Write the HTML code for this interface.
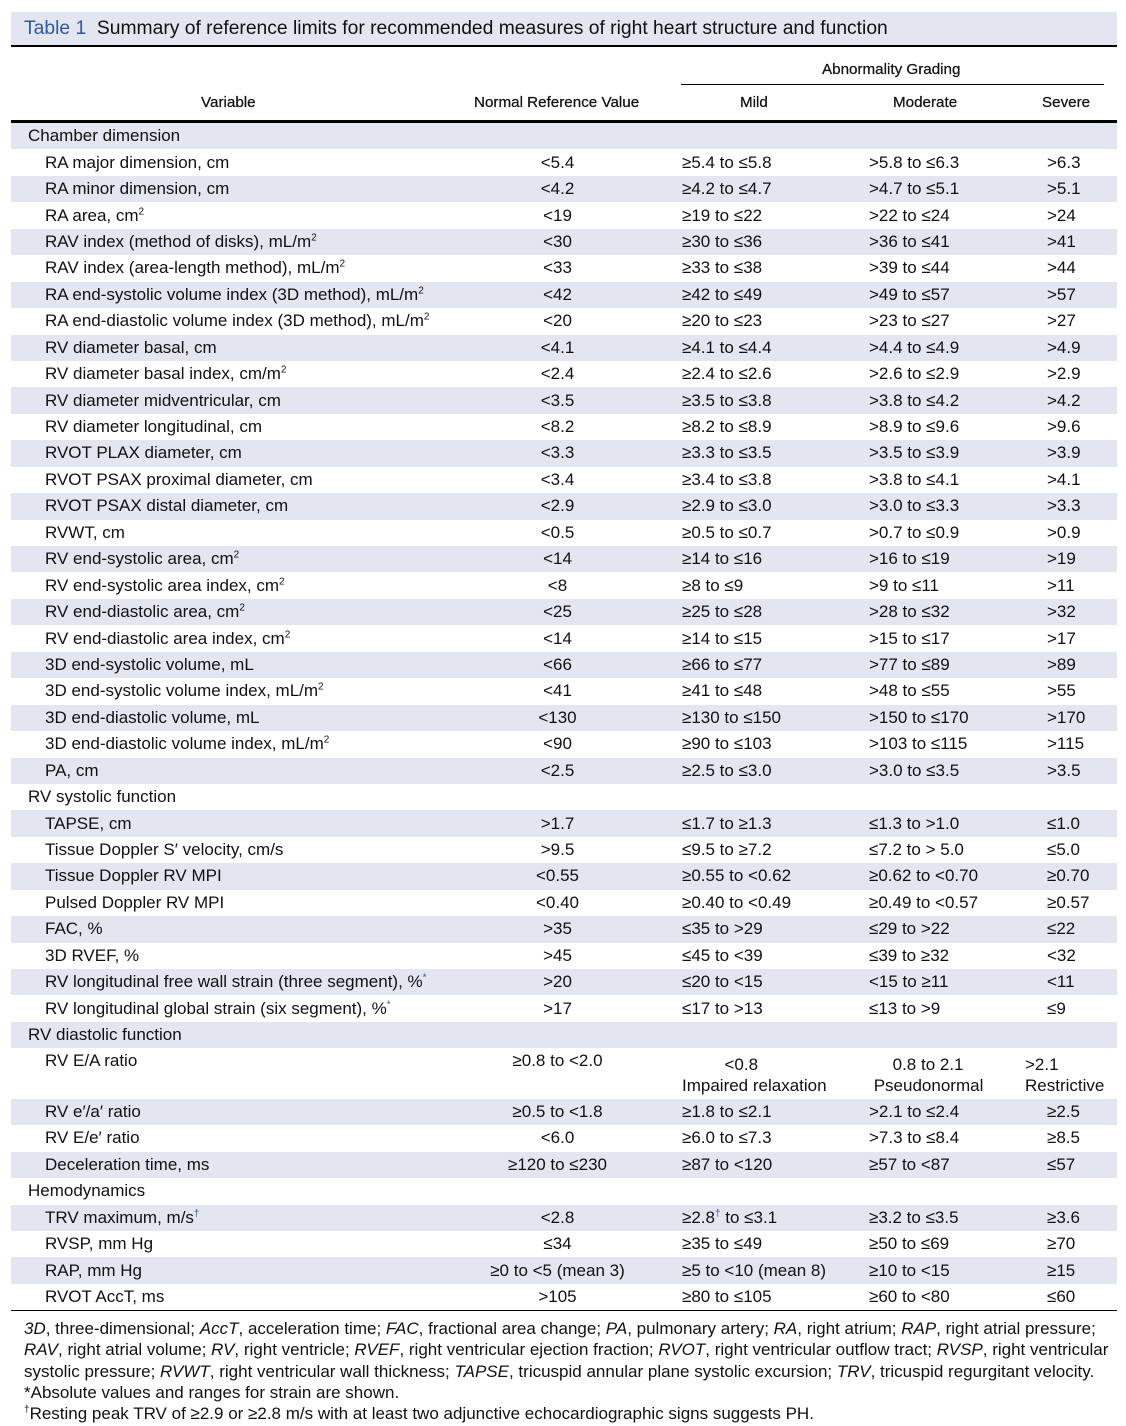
<!DOCTYPE html>
<html><head><meta charset="utf-8"><style>
body{margin:0;background:#fff;width:1126px;height:1426px;position:relative;font-family:"Liberation Sans",Arial,sans-serif;color:#111;overflow:hidden}
.title{position:absolute;left:11px;top:12px;width:1106px;height:35px;background:#e3e5f0;font-size:19.3px;line-height:34px;border-bottom:2px solid #000;box-sizing:border-box}
.title span{color:#2d5aa0;margin-left:13px}
.hdr{position:absolute;font-size:15.2px;font-weight:normal;-webkit-text-stroke:0.25px #111}
table{position:absolute;left:11px;top:120px;width:1106px;border-collapse:collapse;table-layout:fixed;border-top:3px solid #000;border-bottom:1px solid #000;font-size:17px}
td{height:26.45px;padding:0;white-space:nowrap;line-height:18px}
tr:nth-child(odd) td{background:#e3e5f0}
td.v{padding-left:34px}
td.s{padding-left:17px}
td.n{text-align:center}
td.m{padding-left:37px}
td.severe{padding-left:22px}
sup{font-size:10px;line-height:0}
.ast{color:#2d5aa0}
.foot{position:absolute;left:24px;top:1318px;width:1092px;font-size:17px;line-height:21.3px}
</style></head><body>
<div class="title"><span>Table 1</span>&nbsp; Summary of reference limits for recommended measures of right heart structure and function</div>
<div class="hdr" style="left:822px;top:61px">Abnormality Grading</div>
<div style="position:absolute;left:681px;top:84px;width:423px;border-top:1px solid #000"></div>
<div class="hdr" style="left:201px;top:94px">Variable</div>
<div class="hdr" style="left:474px;top:94px">Normal Reference Value</div>
<div class="hdr" style="left:740px;top:94px">Mild</div>
<div class="hdr" style="left:893px;top:94px">Moderate</div>
<div class="hdr" style="left:1042px;top:94px">Severe</div>
<table>
<colgroup><col style="width:459px"><col style="width:175px"><col style="width:224px"><col style="width:156px"><col style="width:92px"></colgroup>
<tr><td class="s" colspan="5">Chamber dimension</td></tr>
<tr><td class="v">RA major dimension, cm</td><td class="n">&lt;5.4</td><td class="m">≥5.4 to ≤5.8</td><td>&gt;5.8 to ≤6.3</td><td class="severe">&gt;6.3</td></tr>
<tr><td class="v">RA minor dimension, cm</td><td class="n">&lt;4.2</td><td class="m">≥4.2 to ≤4.7</td><td>&gt;4.7 to ≤5.1</td><td class="severe">&gt;5.1</td></tr>
<tr><td class="v">RA area, cm<sup>2</sup></td><td class="n">&lt;19</td><td class="m">≥19 to ≤22</td><td>&gt;22 to ≤24</td><td class="severe">&gt;24</td></tr>
<tr><td class="v">RAV index (method of disks), mL/m<sup>2</sup></td><td class="n">&lt;30</td><td class="m">≥30 to ≤36</td><td>&gt;36 to ≤41</td><td class="severe">&gt;41</td></tr>
<tr><td class="v">RAV index (area-length method), mL/m<sup>2</sup></td><td class="n">&lt;33</td><td class="m">≥33 to ≤38</td><td>&gt;39 to ≤44</td><td class="severe">&gt;44</td></tr>
<tr><td class="v">RA end-systolic volume index (3D method), mL/m<sup>2</sup></td><td class="n">&lt;42</td><td class="m">≥42 to ≤49</td><td>&gt;49 to ≤57</td><td class="severe">&gt;57</td></tr>
<tr><td class="v">RA end-diastolic volume index (3D method), mL/m<sup>2</sup></td><td class="n">&lt;20</td><td class="m">≥20 to ≤23</td><td>&gt;23 to ≤27</td><td class="severe">&gt;27</td></tr>
<tr><td class="v">RV diameter basal, cm</td><td class="n">&lt;4.1</td><td class="m">≥4.1 to ≤4.4</td><td>&gt;4.4 to ≤4.9</td><td class="severe">&gt;4.9</td></tr>
<tr><td class="v">RV diameter basal index, cm/m<sup>2</sup></td><td class="n">&lt;2.4</td><td class="m">≥2.4 to ≤2.6</td><td>&gt;2.6 to ≤2.9</td><td class="severe">&gt;2.9</td></tr>
<tr><td class="v">RV diameter midventricular, cm</td><td class="n">&lt;3.5</td><td class="m">≥3.5 to ≤3.8</td><td>&gt;3.8 to ≤4.2</td><td class="severe">&gt;4.2</td></tr>
<tr><td class="v">RV diameter longitudinal, cm</td><td class="n">&lt;8.2</td><td class="m">≥8.2 to ≤8.9</td><td>&gt;8.9 to ≤9.6</td><td class="severe">&gt;9.6</td></tr>
<tr><td class="v">RVOT PLAX diameter, cm</td><td class="n">&lt;3.3</td><td class="m">≥3.3 to ≤3.5</td><td>&gt;3.5 to ≤3.9</td><td class="severe">&gt;3.9</td></tr>
<tr><td class="v">RVOT PSAX proximal diameter, cm</td><td class="n">&lt;3.4</td><td class="m">≥3.4 to ≤3.8</td><td>&gt;3.8 to ≤4.1</td><td class="severe">&gt;4.1</td></tr>
<tr><td class="v">RVOT PSAX distal diameter, cm</td><td class="n">&lt;2.9</td><td class="m">≥2.9 to ≤3.0</td><td>&gt;3.0 to ≤3.3</td><td class="severe">&gt;3.3</td></tr>
<tr><td class="v">RVWT, cm</td><td class="n">&lt;0.5</td><td class="m">≥0.5 to ≤0.7</td><td>&gt;0.7 to ≤0.9</td><td class="severe">&gt;0.9</td></tr>
<tr><td class="v">RV end-systolic area, cm<sup>2</sup></td><td class="n">&lt;14</td><td class="m">≥14 to ≤16</td><td>&gt;16 to ≤19</td><td class="severe">&gt;19</td></tr>
<tr><td class="v">RV end-systolic area index, cm<sup>2</sup></td><td class="n">&lt;8</td><td class="m">≥8 to ≤9</td><td>&gt;9 to ≤11</td><td class="severe">&gt;11</td></tr>
<tr><td class="v">RV end-diastolic area, cm<sup>2</sup></td><td class="n">&lt;25</td><td class="m">≥25 to ≤28</td><td>&gt;28 to ≤32</td><td class="severe">&gt;32</td></tr>
<tr><td class="v">RV end-diastolic area index, cm<sup>2</sup></td><td class="n">&lt;14</td><td class="m">≥14 to ≤15</td><td>&gt;15 to ≤17</td><td class="severe">&gt;17</td></tr>
<tr><td class="v">3D end-systolic volume, mL</td><td class="n">&lt;66</td><td class="m">≥66 to ≤77</td><td>&gt;77 to ≤89</td><td class="severe">&gt;89</td></tr>
<tr><td class="v">3D end-systolic volume index, mL/m<sup>2</sup></td><td class="n">&lt;41</td><td class="m">≥41 to ≤48</td><td>&gt;48 to ≤55</td><td class="severe">&gt;55</td></tr>
<tr><td class="v">3D end-diastolic volume, mL</td><td class="n">&lt;130</td><td class="m">≥130 to ≤150</td><td>&gt;150 to ≤170</td><td class="severe">&gt;170</td></tr>
<tr><td class="v">3D end-diastolic volume index, mL/m<sup>2</sup></td><td class="n">&lt;90</td><td class="m">≥90 to ≤103</td><td>&gt;103 to ≤115</td><td class="severe">&gt;115</td></tr>
<tr><td class="v">PA, cm</td><td class="n">&lt;2.5</td><td class="m">≥2.5 to ≤3.0</td><td>&gt;3.0 to ≤3.5</td><td class="severe">&gt;3.5</td></tr>
<tr><td class="s" colspan="5">RV systolic function</td></tr>
<tr><td class="v">TAPSE, cm</td><td class="n">&gt;1.7</td><td class="m">≤1.7 to ≥1.3</td><td>≤1.3 to &gt;1.0</td><td class="severe">≤1.0</td></tr>
<tr><td class="v">Tissue Doppler S′ velocity, cm/s</td><td class="n">&gt;9.5</td><td class="m">≤9.5 to ≥7.2</td><td>≤7.2 to &gt; 5.0</td><td class="severe">≤5.0</td></tr>
<tr><td class="v">Tissue Doppler RV MPI</td><td class="n">&lt;0.55</td><td class="m">≥0.55 to &lt;0.62</td><td>≥0.62 to &lt;0.70</td><td class="severe">≥0.70</td></tr>
<tr><td class="v">Pulsed Doppler RV MPI</td><td class="n">&lt;0.40</td><td class="m">≥0.40 to &lt;0.49</td><td>≥0.49 to &lt;0.57</td><td class="severe">≥0.57</td></tr>
<tr><td class="v">FAC, %</td><td class="n">&gt;35</td><td class="m">≤35 to &gt;29</td><td>≤29 to &gt;22</td><td class="severe">≤22</td></tr>
<tr><td class="v">3D RVEF, %</td><td class="n">&gt;45</td><td class="m">≤45 to &lt;39</td><td>≤39 to ≥32</td><td class="severe">&lt;32</td></tr>
<tr><td class="v">RV longitudinal free wall strain (three segment), %<sup class="ast">*</sup></td><td class="n">&gt;20</td><td class="m">≤20 to &lt;15</td><td>&lt;15 to ≥11</td><td class="severe">&lt;11</td></tr>
<tr><td class="v">RV longitudinal global strain (six segment), %<sup class="ast">*</sup></td><td class="n">&gt;17</td><td class="m">≤17 to &gt;13</td><td>≤13 to &gt;9</td><td class="severe">≤9</td></tr>
<tr><td class="s" colspan="5">RV diastolic function</td></tr>
<tr><td class="v" style="height:46.5px;vertical-align:top;padding-top:4px">RV E/A ratio</td><td class="n" style="vertical-align:top;padding-top:4px">≥0.8 to &lt;2.0</td><td class="m" style="padding-top:3px;line-height:21px">&nbsp;&nbsp;&nbsp;&nbsp;&nbsp;&nbsp;&nbsp;&nbsp;&nbsp;&lt;0.8<br>Impaired relaxation</td><td style="padding-top:3px;line-height:21px">&nbsp;&nbsp;&nbsp;&nbsp;&nbsp;0.8 to 2.1<br>&nbsp;Pseudonormal</td><td style="padding-top:3px;line-height:21px">&gt;2.1<br>Restrictive</td></tr>
<tr><td class="v">RV e′/a′ ratio</td><td class="n">≥0.5 to &lt;1.8</td><td class="m">≥1.8 to ≤2.1</td><td>&gt;2.1 to ≤2.4</td><td class="severe">≥2.5</td></tr>
<tr><td class="v">RV E/e′ ratio</td><td class="n">&lt;6.0</td><td class="m">≥6.0 to ≤7.3</td><td>&gt;7.3 to ≤8.4</td><td class="severe">≥8.5</td></tr>
<tr><td class="v">Deceleration time, ms</td><td class="n">≥120 to ≤230</td><td class="m">≥87 to &lt;120</td><td>≥57 to &lt;87</td><td class="severe">≤57</td></tr>
<tr><td class="s" colspan="5">Hemodynamics</td></tr>
<tr><td class="v">TRV maximum, m/s<sup class="ast">†</sup></td><td class="n">&lt;2.8</td><td class="m">≥2.8<sup class="ast">†</sup> to ≤3.1</td><td>≥3.2 to ≤3.5</td><td class="severe">≥3.6</td></tr>
<tr><td class="v">RVSP, mm Hg</td><td class="n">≤34</td><td class="m">≥35 to ≤49</td><td>≥50 to ≤69</td><td class="severe">≥70</td></tr>
<tr><td class="v">RAP, mm Hg</td><td class="n">≥0 to &lt;5 (mean 3)</td><td class="m">≥5 to &lt;10 (mean 8)</td><td>≥10 to &lt;15</td><td class="severe">≥15</td></tr>
<tr><td class="v">RVOT AccT, ms</td><td class="n">&gt;105</td><td class="m">≥80 to ≤105</td><td>≥60 to &lt;80</td><td class="severe">≤60</td></tr>
</table>
<div class="foot"><i>3D</i>, three-dimensional; <i>AccT</i>, acceleration time; <i>FAC</i>, fractional area change; <i>PA</i>, pulmonary artery; <i>RA</i>, right atrium; <i>RAP</i>, right atrial pressure; <i>RAV</i>, right atrial volume; <i>RV</i>, right ventricle; <i>RVEF</i>, right ventricular ejection fraction; <i>RVOT</i>, right ventricular outflow tract; <i>RVSP</i>, right ventricular systolic pressure; <i>RVWT</i>, right ventricular wall thickness; <i>TAPSE</i>, tricuspid annular plane systolic excursion; <i>TRV</i>, tricuspid regurgitant velocity.<br>*Absolute values and ranges for strain are shown.<br><sup>†</sup>Resting peak TRV of ≥2.9 or ≥2.8 m/s with at least two adjunctive echocardiographic signs suggests PH.</div>
</body></html>
